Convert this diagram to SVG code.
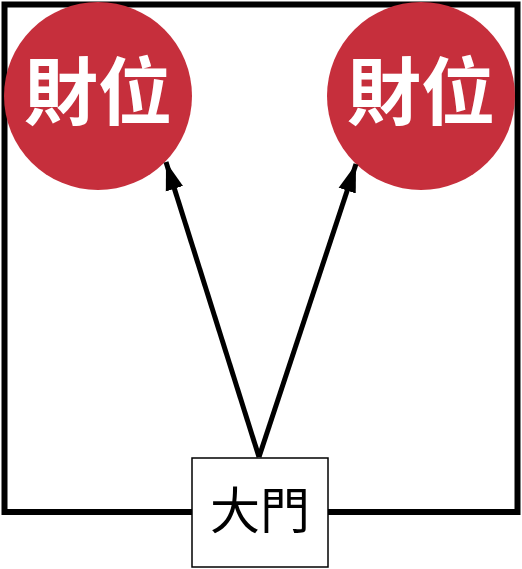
<svg xmlns="http://www.w3.org/2000/svg" width="522" height="569" viewBox="0 0 522 569">
<style>
.frame{fill:none;stroke:#000;stroke-width:6}
.spot{fill:#C62F3C}
.spot-t{fill:#fff;font-family:"Noto Sans CJK TC","Noto Sans CJK SC",sans-serif;font-weight:bold;font-size:74px;text-anchor:middle;dominant-baseline:central}
.gate{fill:#fff;stroke:#000;stroke-width:1.5}
.gate-t{fill:#000;font-family:"Noto Sans CJK TC","Noto Sans CJK SC",sans-serif;font-size:50px;text-anchor:middle;dominant-baseline:central}
.conn{fill:none;stroke:#000;stroke-width:5}
</style>
<defs>
<marker id="ah" markerUnits="userSpaceOnUse" markerWidth="30" markerHeight="20" refX="28" refY="10" orient="auto">
<path d="M0,1 L28,10 L0,19 Z" fill="#000"/>
</marker>
</defs>
<rect class="frame" x="4.5" y="4.5" width="513" height="507.5"/>
<g id="wealth-left">
<circle class="spot" cx="98" cy="96" r="94"/>
<text class="spot-t" x="98" y="86">財位</text>
</g>
<g id="wealth-right">
<circle class="spot" cx="421" cy="96" r="94"/>
<text class="spot-t" x="421" y="86">財位</text>
</g>
<g id="connectors">
<line class="conn" x1="259" y1="457" x2="166" y2="162" marker-end="url(#ah)"/>
<line class="conn" x1="259" y1="457" x2="356" y2="164" marker-end="url(#ah)"/>
</g>
<g id="gate">
<rect class="gate" x="192" y="458" width="136" height="109"/>
<text class="gate-t" x="260" y="507">大門</text>
</g>
</svg>
